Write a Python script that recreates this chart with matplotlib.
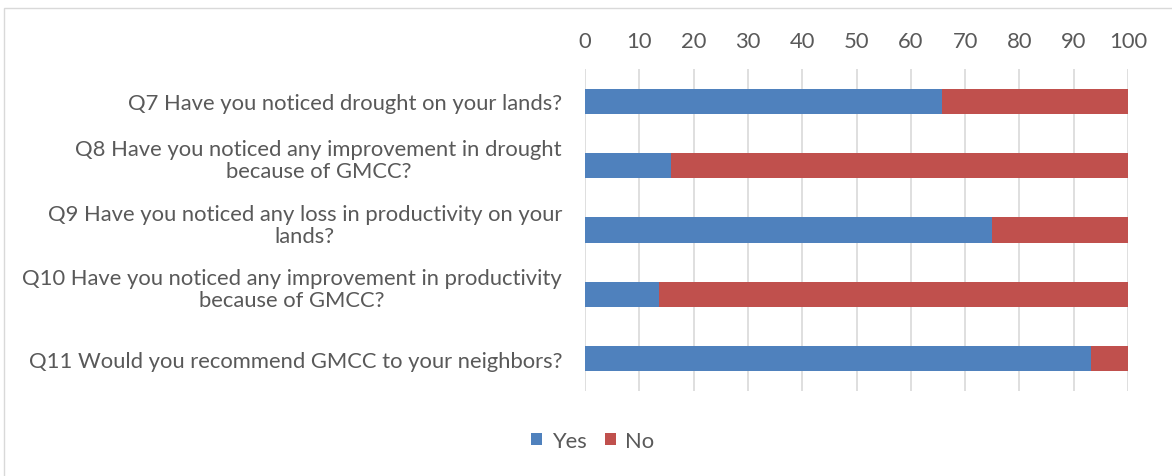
import matplotlib.pyplot as plt
import matplotlib.transforms as mtransforms
import numpy as np
from matplotlib.patches import Rectangle

questions = [
    "Q7 Have you noticed drought on your lands?",
    "Q8 Have you noticed any improvement in drought\nbecause of GMCC?",
    "Q9 Have you noticed any loss in productivity on your\nlands?",
    "Q10 Have you noticed any improvement in productivity\nbecause of GMCC?",
    "Q11 Would you recommend GMCC to your neighbors?",
]
yes = [65.8, 15.9, 74.9, 13.7, 93.1]
no = [34.2, 84.1, 25.1, 86.3, 6.9]
xticks = [0, 10, 20, 30, 40, 50, 60, 70, 80, 90, 100]

text_color = "#595959"
fsize = 15.8
plt.rcParams['font.family'] = ['Lato', 'DejaVu Sans']

fig = plt.figure(figsize=(11.72, 4.77), dpi=100)
ax = fig.add_axes([585 / 1172, 1 - 392 / 477, (1128 - 585) / 1172, (392 - 70) / 477])

y = np.arange(len(questions))
ax.barh(y, yes, height=0.39, color="#4F81BD", label="Yes", zorder=3)
ax.barh(y, no, left=yes, height=0.39, color="#C0504D", label="No", zorder=3)

ax.set_xlim(0, 100)
ax.set_ylim(len(questions) - 0.5, -0.5)
ax.set_xticks(xticks)
ax.xaxis.tick_top()
ax.tick_params(axis='x', length=0, pad=13, labelsize=fsize, labelcolor=text_color)
ax.tick_params(axis='y', length=0, pad=16.5, labelsize=fsize, labelcolor=text_color)
ax.set_yticks(y)
ax.set_yticklabels(questions)

# two-line labels sit a little above the bar centre
lift = mtransforms.ScaledTranslation(0, 6 / 72, fig.dpi_scale_trans)
for lbl in ax.get_yticklabels():
    lbl.set_multialignment('center')
    lbl.set_linespacing(1.12)
    if "\n" in lbl.get_text():
        lbl.set_transform(lbl.get_transform() + lift)

ax.grid(axis='x', color="#D9D9D9", linewidth=1.2, zorder=0)
for s in ax.spines.values():
    s.set_visible(False)

# outer chart frame
fig.patches.append(Rectangle((4 / 1172, -0.05), 1.1, 1 - 9 / 477 + 0.05,
                             transform=fig.transFigure, fill=False,
                             edgecolor="#D9D9D9", linewidth=1))

fig.legend(loc='center', bbox_to_anchor=(593 / 1172, 1 - 442 / 477), ncol=2,
           frameon=False, fontsize=fsize, labelcolor=text_color,
           handlelength=0.5, handleheight=0.5, handletextpad=0.45, columnspacing=0.8)

fig.savefig("out.png", dpi=100)
